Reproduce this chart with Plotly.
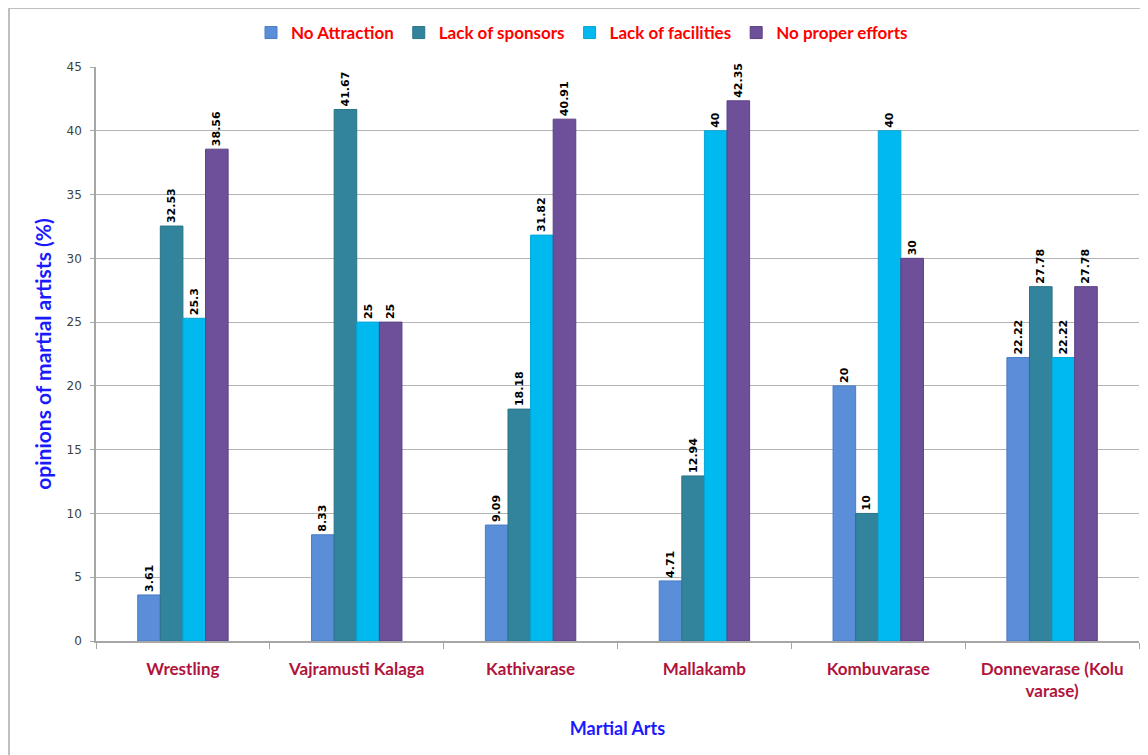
import plotly.graph_objects as go

categories = ["Wrestling", "Vajramusti Kalaga", "Kathivarase", "Mallakamb",
              "Kombuvarase", "Donnevarase (Kolu<br>varase)"]
series_names = ["No Attraction", "Lack of sponsors", "Lack of facilities", "No proper efforts"]
no_attraction = [3.61, 8.33, 9.09, 4.71, 20, 22.22]
lack_sponsors = [32.53, 41.67, 18.18, 12.94, 10, 27.78]
lack_facilities = [25.3, 25, 31.82, 40, 40, 22.22]
no_efforts = [38.56, 25, 40.91, 42.35, 30, 27.78]
y_ticks = [0, 5, 10, 15, 20, 25, 30, 35, 40, 45]

colors = ["#5a8ed8", "#31849b", "#00b9ef", "#6e4f99"]
line_colors = ["#4a7cc4", "#2a7387", "#05a5d6", "#5c4085"]

def fmt(v):
    return ("%g" % v)

fig = go.Figure()
for name, vals, c, lc in zip(series_names,
                             [no_attraction, lack_sponsors, lack_facilities, no_efforts],
                             colors, line_colors):
    fig.add_trace(go.Bar(
        name=name, x=categories, y=vals,
        marker=dict(color=c, line=dict(color=lc, width=1)),
        text=[fmt(v) for v in vals], textposition="outside", textangle=-90,
        textfont=dict(family="DejaVu Sans", size=11, color="black", weight="bold"),
        cliponaxis=False,
    ))

# page body adds an 8px offset; figure sized to fit the window
OFF = 8
W, H = 1140, 747
L, T = 96 - OFF, 67 - OFF
R = W + OFF - 1139
B = H + OFF - 641
pw = W - L - R
ph = H - T - B

fig.update_layout(
    width=W, height=H,
    paper_bgcolor="white", plot_bgcolor="white",
    margin=dict(l=L, r=R, t=T, b=B, autoexpand=False),
    barmode="group", bargap=0.48, bargroupgap=0.0,
    uniformtext=dict(minsize=11, mode="show"),
    font=dict(family="Lato"),
    legend=dict(orientation="h", x=(582 - OFF - L) / pw, xanchor="center",
                y=1 + (T - (33 - OFF)) / ph, yanchor="middle",
                font=dict(family="Lato", size=17, color="#ff0000", weight="bold"),
                itemwidth=30, traceorder="normal"),
    showlegend=True,
    xaxis=dict(
        automargin=False,
        showline=True, linecolor="#a6a6a6", linewidth=1.5,
        ticks="outside", tickson="boundaries", ticklen=6, tickcolor="#a6a6a6",
        ticklabelstandoff=12,
        tickfont=dict(family="Lato", size=17, color="#b0143c", weight="bold"),
        title=dict(text="Martial Arts", standoff=22,
                   font=dict(family="Lato", size=18, color="#1a1aff", weight="bold")),
    ),
    yaxis=dict(
        automargin=False,
        range=[0, 45], tickvals=y_ticks,
        showline=True, linecolor="#a6a6a6", linewidth=1.5,
        ticks="outside", ticklen=4, tickcolor="#a6a6a6",
        ticklabelstandoff=6,
        showgrid=True, gridcolor="#b3b3b3", gridwidth=1.2,
        tickfont=dict(family="DejaVu Sans", size=12, color="#404040"),
        title=dict(text="opinions of martial artists (%)", standoff=9,
                   font=dict(family="Lato", size=21, color="#1a1aff", weight="bold")),
        zeroline=False,
    ),
)

# outer chart frame (left and top edges visible in the reference)
fig.add_shape(type="rect", xref="paper", yref="paper",
              x0=(1 - L) / pw, x1=(W + 20 - L) / pw,
              y0=-(H + 20 - T - ph) / ph, y1=1 + T / ph,
              line=dict(color="#bfbfbf", width=2), layer="below")

fig.write_html("out.html")
